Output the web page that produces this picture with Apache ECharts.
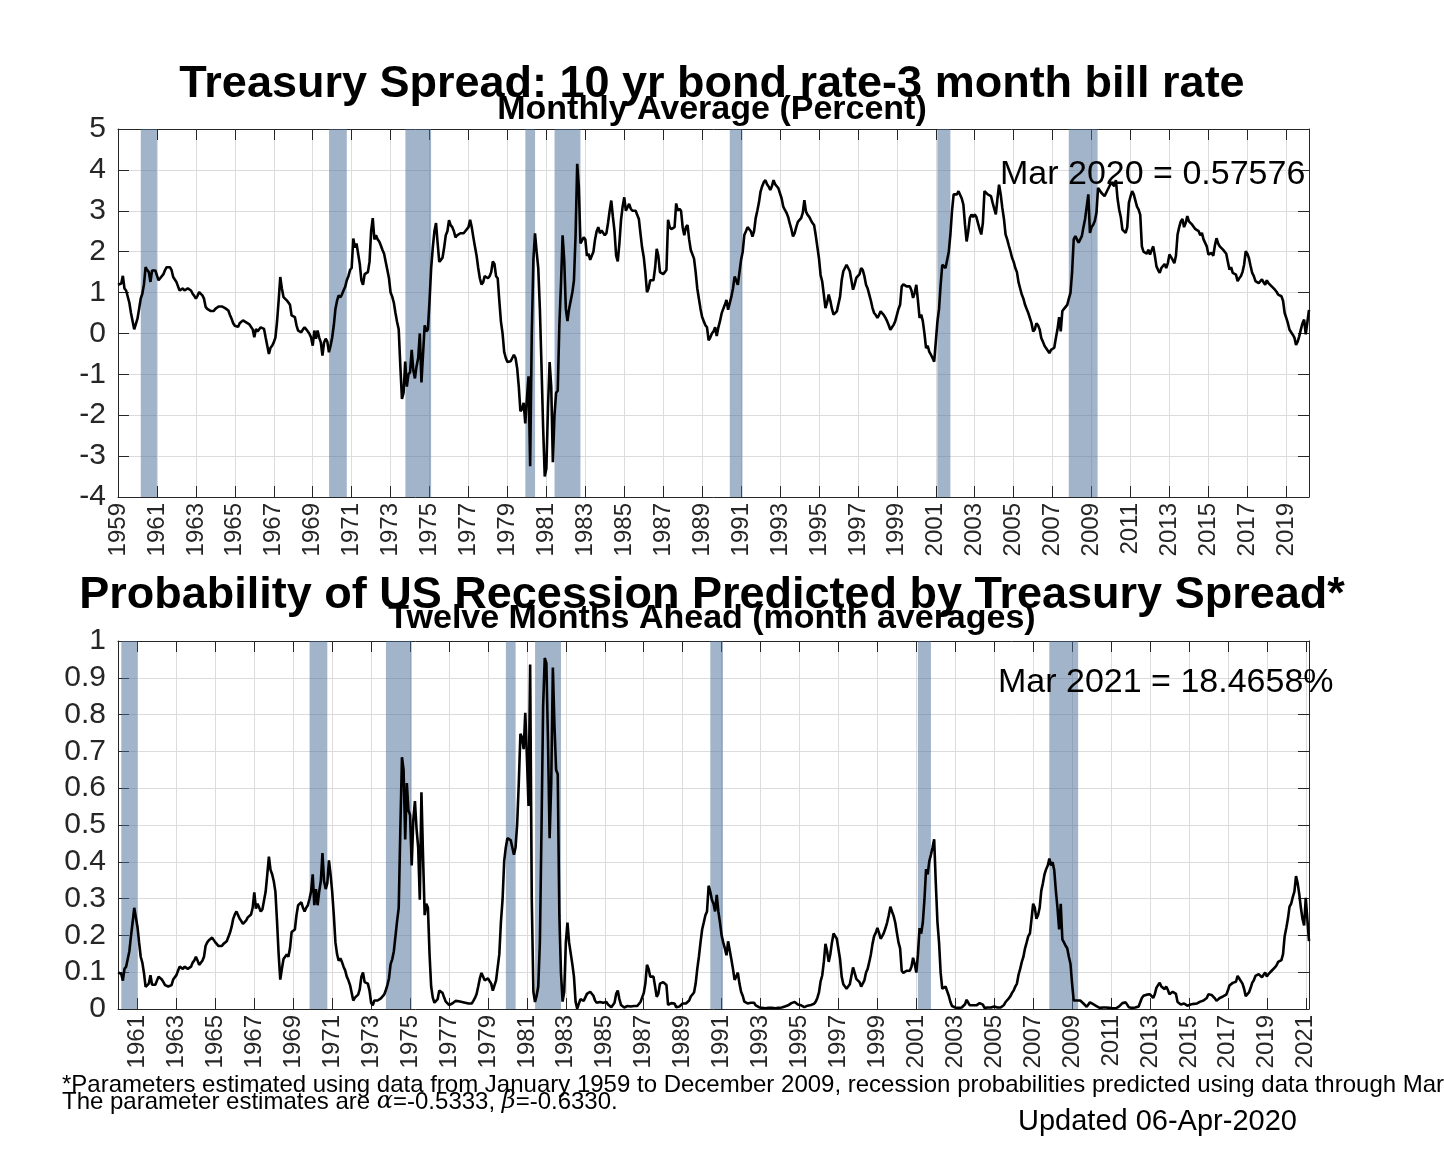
<!DOCTYPE html>
<html><head><meta charset="utf-8">
<script src="https://cdn.jsdelivr.net/npm/echarts@6/dist/echarts.min.js"></script>
<style>html,body{margin:0;padding:0;background:#fff}#c{width:1444px;height:1150px}</style>
</head><body><div id="c"></div>
<script>
// Monthly spread (10y - 3m, percent), Jan 1959 .. Mar 2020
const spreadStartYear = 1959;
const spread = [
1.19,1.15,1.22,1.41,1.10,1.05,1.01,0.75,0.50,0.30,0.10,0.10,
0.36,0.60,0.85,0.97,1.20,1.62,1.55,1.50,1.26,1.54,1.50,1.54,
1.54,1.30,1.35,1.38,1.45,1.55,1.62,1.60,1.62,1.55,1.38,1.35,
1.26,1.15,1.05,1.08,1.10,1.05,1.05,1.10,1.11,1.05,0.97,0.92,
0.85,0.92,1.01,0.98,0.93,0.85,0.65,0.60,0.56,0.55,0.52,0.55,
0.60,0.62,0.66,0.69,0.66,0.62,0.62,0.58,0.56,0.45,0.36,0.25,
0.19,0.15,0.16,0.25,0.28,0.32,0.30,0.27,0.23,0.22,0.19,0.10,
-0.09,0.11,0.05,0.03,0.15,0.12,0.11,-0.10,-0.30,-0.50,-0.35,-0.30,
-0.22,-0.10,0.28,0.80,1.38,1.10,0.89,0.85,0.81,0.85,0.70,0.44,
0.42,0.40,0.20,0.07,0.05,0.03,0.10,0.15,0.10,0.07,-0.01,-0.10,
-0.30,0.07,-0.13,0.07,-0.10,-0.22,-0.54,-0.22,-0.13,-0.20,-0.46,-0.30,
-0.10,0.20,0.60,0.80,0.93,0.88,0.95,1.05,1.14,1.30,1.40,1.55,
1.60,2.32,2.10,2.20,1.95,1.70,1.30,1.19,1.45,1.42,1.50,1.75,
2.50,2.82,2.30,2.40,2.30,2.25,2.15,2.04,1.95,1.75,1.55,1.35,
1.00,0.90,0.75,0.50,0.28,0.10,-0.80,-1.60,-1.45,-0.69,-1.30,-1.00,
-0.95,-0.40,-0.90,-1.10,-0.80,-0.60,0.00,-1.20,-0.50,0.20,0.05,0.10,
0.80,1.60,2.10,2.50,2.70,2.20,1.75,1.80,1.85,2.10,2.40,2.50,
2.77,2.65,2.60,2.50,2.35,2.40,2.38,2.45,2.42,2.45,2.50,2.50,
2.60,2.78,2.60,2.35,2.12,1.90,1.60,1.35,1.20,1.25,1.40,1.38,
1.35,1.40,1.50,1.76,1.70,1.40,1.35,0.80,0.29,0.00,-0.45,-0.60,
-0.70,-0.72,-0.68,-0.70,-0.52,-0.60,-0.85,-1.30,-1.90,-1.85,-1.70,-2.20,
-1.60,-1.05,-3.25,0.00,1.80,2.45,2.00,1.60,0.60,-0.80,-2.30,-3.50,
-3.30,-1.80,-0.70,-1.30,-3.15,-2.00,-1.45,-1.40,0.20,1.20,2.40,1.80,
0.60,0.30,0.60,0.60,1.00,1.30,2.40,4.15,3.60,2.20,2.20,2.35,
2.30,1.90,1.95,1.80,1.76,2.00,2.30,2.50,2.60,2.45,2.52,2.50,
2.40,2.45,2.70,3.00,3.25,2.85,2.50,1.90,1.76,2.20,2.77,3.10,
3.33,3.00,3.00,3.17,3.05,3.00,3.00,3.00,3.00,2.80,2.44,2.10,
1.87,1.50,1.01,1.10,1.30,1.34,1.30,1.60,2.07,1.90,1.50,1.46,
1.45,1.50,1.55,2.78,2.60,2.55,2.58,2.60,3.18,3.00,3.05,3.00,
2.60,2.40,2.60,2.65,2.30,2.04,2.00,1.83,1.50,1.10,0.85,0.60,
0.40,0.30,0.20,0.15,-0.17,-0.10,0.00,0.05,0.15,-0.06,0.15,0.30,
0.49,0.60,0.70,0.82,0.58,0.55,0.90,1.10,1.39,1.30,1.19,1.50,
1.80,2.00,2.41,2.50,2.60,2.64,2.50,2.37,2.50,2.82,3.00,3.20,
3.47,3.60,3.70,3.75,3.65,3.59,3.51,3.60,3.75,3.65,3.60,3.55,
3.51,3.30,3.10,3.02,2.95,2.85,2.69,2.55,2.37,2.45,2.60,2.73,
2.75,2.82,2.95,3.26,2.98,2.90,2.85,2.77,2.70,2.65,2.40,2.12,
1.84,1.43,1.27,0.95,0.62,0.75,0.95,0.80,0.60,0.46,0.50,0.54,
0.54,0.90,1.30,1.52,1.60,1.68,1.60,1.52,1.55,1.07,1.20,1.36,
1.40,1.45,1.60,1.55,1.40,1.19,1.10,0.95,0.80,0.62,0.50,0.45,
0.38,0.45,0.54,0.50,0.45,0.38,0.30,0.20,0.09,0.15,0.21,0.30,
0.45,0.60,0.70,1.15,1.20,1.19,1.15,1.11,1.15,1.05,0.87,1.00,
1.19,0.80,0.38,0.46,0.30,0.00,-0.36,-0.30,-0.45,-0.52,-0.60,-0.69,
-0.20,0.29,0.60,1.20,1.68,1.72,1.60,1.56,2.00,2.42,3.00,3.40,
3.36,3.40,3.48,3.45,3.30,3.15,2.66,2.25,2.50,2.83,2.91,2.85,
2.91,2.85,2.70,2.55,2.42,2.70,3.48,3.45,3.40,3.38,3.36,3.20,
3.05,2.91,3.30,3.64,3.40,3.07,2.80,2.42,2.30,2.15,2.01,1.85,
1.75,1.60,1.50,1.25,1.10,0.95,0.85,0.70,0.60,0.50,0.46,0.25,
0.05,0.10,0.25,0.20,0.10,-0.11,-0.20,-0.30,-0.36,-0.40,-0.48,-0.40,
-0.44,-0.35,-0.11,0.10,0.40,0.05,0.55,0.60,0.65,0.70,0.85,0.99,
1.50,2.30,2.38,2.30,2.22,2.30,2.38,2.60,2.80,3.10,3.40,2.46,
2.60,2.66,2.75,2.95,3.56,3.50,3.44,3.40,3.36,3.40,3.52,3.60,
3.69,3.65,3.60,3.75,3.30,3.03,2.85,2.54,2.50,2.46,2.60,3.20,
3.35,3.48,3.40,3.36,3.10,3.03,2.90,2.13,2.00,2.01,1.95,2.05,
1.93,1.95,2.13,1.90,1.64,1.55,1.48,1.60,1.64,1.70,1.60,1.72,
1.93,1.90,1.80,1.72,1.90,2.42,2.60,2.74,2.80,2.60,2.70,2.87,
2.74,2.70,2.66,2.64,2.55,2.58,2.50,2.40,2.46,2.30,2.30,2.13,
1.93,1.95,1.97,1.90,2.15,2.33,2.20,2.13,2.09,2.05,2.01,1.95,
1.75,1.56,1.62,1.48,1.50,1.44,1.28,1.35,1.40,1.50,1.68,2.01,
1.95,1.84,1.65,1.48,1.40,1.28,1.30,1.23,1.20,1.32,1.25,1.19,
1.30,1.23,1.20,1.15,1.12,1.07,1.02,0.95,0.93,0.91,0.80,0.50,
0.38,0.25,0.09,0.05,-0.03,-0.10,-0.28,-0.20,-0.07,0.10,0.25,0.34,
-0.02,0.00,0.57576
];

// Recession probability twelve months ahead, Jan 1960 .. Mar 2021
const probStartYear = 1960;
const prob = [
0.099,0.104,0.096,0.077,0.109,0.115,0.120,0.157,0.198,0.235,0.275,0.275,
0.223,0.181,0.142,0.126,0.098,0.060,0.065,0.069,0.092,0.066,0.069,0.066,
0.066,0.088,0.083,0.080,0.073,0.065,0.060,0.061,0.060,0.065,0.080,0.083,
0.092,0.104,0.115,0.112,0.109,0.115,0.115,0.109,0.108,0.115,0.126,0.132,
0.142,0.132,0.120,0.124,0.131,0.142,0.172,0.181,0.187,0.189,0.194,0.189,
0.181,0.177,0.171,0.166,0.171,0.177,0.177,0.184,0.187,0.207,0.223,0.245,
0.257,0.265,0.263,0.245,0.239,0.231,0.235,0.241,0.249,0.251,0.257,0.275,
0.317,0.273,0.286,0.290,0.265,0.271,0.273,0.319,0.366,0.414,0.378,0.366,
0.347,0.319,0.239,0.149,0.080,0.109,0.136,0.142,0.148,0.142,0.165,0.209,
0.212,0.216,0.255,0.282,0.286,0.290,0.275,0.265,0.275,0.282,0.299,0.319,
0.366,0.282,0.326,0.282,0.319,0.347,0.424,0.347,0.326,0.342,0.404,0.366,
0.319,0.255,0.181,0.149,0.131,0.138,0.128,0.115,0.105,0.088,0.078,0.065,
0.061,0.023,0.031,0.027,0.039,0.054,0.088,0.099,0.073,0.076,0.069,0.050,
0.017,0.010,0.023,0.020,0.023,0.025,0.029,0.034,0.039,0.050,0.065,0.083,
0.122,0.135,0.157,0.198,0.239,0.275,0.489,0.684,0.650,0.461,0.614,0.540,
0.527,0.390,0.514,0.565,0.489,0.439,0.297,0.589,0.414,0.255,0.286,0.275,
0.149,0.061,0.031,0.017,0.012,0.027,0.050,0.047,0.044,0.031,0.020,0.017,
0.011,0.014,0.015,0.017,0.022,0.020,0.021,0.019,0.019,0.019,0.017,0.017,
0.015,0.011,0.015,0.022,0.030,0.041,0.061,0.083,0.098,0.093,0.078,0.080,
0.083,0.078,0.069,0.050,0.054,0.078,0.083,0.149,0.237,0.297,0.402,0.439,
0.464,0.469,0.459,0.464,0.419,0.439,0.502,0.614,0.748,0.738,0.706,0.805,
0.684,0.552,0.936,0.297,0.047,0.019,0.036,0.061,0.181,0.489,0.822,0.954,
0.940,0.728,0.464,0.614,0.928,0.768,0.650,0.638,0.255,0.098,0.020,0.047,
0.181,0.235,0.181,0.181,0.122,0.088,0.020,0.001,0.003,0.027,0.027,0.022,
0.023,0.041,0.039,0.047,0.050,0.036,0.023,0.017,0.015,0.019,0.017,0.017,
0.020,0.019,0.012,0.008,0.005,0.010,0.017,0.041,0.050,0.027,0.011,0.006,
0.004,0.008,0.008,0.006,0.007,0.008,0.008,0.008,0.008,0.011,0.019,0.031,
0.043,0.069,0.120,0.109,0.088,0.084,0.088,0.061,0.033,0.041,0.069,0.073,
0.073,0.069,0.065,0.011,0.015,0.016,0.015,0.015,0.005,0.008,0.007,0.008,
0.015,0.020,0.015,0.014,0.023,0.034,0.036,0.045,0.069,0.109,0.142,0.181,
0.216,0.235,0.255,0.265,0.335,0.319,0.297,0.286,0.265,0.310,0.265,0.235,
0.200,0.181,0.165,0.146,0.184,0.189,0.135,0.109,0.079,0.088,0.099,0.069,
0.047,0.036,0.020,0.017,0.015,0.014,0.017,0.021,0.017,0.010,0.008,0.005,
0.003,0.003,0.002,0.002,0.002,0.003,0.003,0.003,0.002,0.002,0.003,0.003,
0.003,0.004,0.006,0.007,0.008,0.010,0.013,0.016,0.021,0.019,0.015,0.012,
0.011,0.010,0.008,0.005,0.008,0.009,0.010,0.011,0.012,0.014,0.020,0.030,
0.045,0.075,0.091,0.128,0.177,0.157,0.128,0.149,0.181,0.205,0.198,0.191,
0.191,0.135,0.088,0.067,0.061,0.055,0.061,0.067,0.065,0.113,0.098,0.082,
0.078,0.073,0.061,0.065,0.078,0.099,0.109,0.128,0.149,0.177,0.198,0.207,
0.220,0.207,0.191,0.198,0.207,0.220,0.235,0.255,0.278,0.265,0.253,0.235,
0.207,0.181,0.165,0.104,0.098,0.099,0.104,0.108,0.104,0.115,0.139,0.122,
0.099,0.149,0.220,0.205,0.235,0.297,0.380,0.366,0.402,0.419,0.439,0.461,
0.342,0.237,0.181,0.098,0.055,0.052,0.061,0.064,0.036,0.019,0.008,0.004,
0.004,0.004,0.003,0.003,0.004,0.006,0.013,0.025,0.017,0.010,0.009,0.010,
0.009,0.010,0.012,0.016,0.019,0.012,0.003,0.003,0.004,0.004,0.004,0.005,
0.007,0.009,0.004,0.002,0.004,0.007,0.011,0.019,0.023,0.029,0.035,0.044,
0.050,0.061,0.069,0.093,0.109,0.128,0.142,0.165,0.181,0.198,0.205,0.245,
0.286,0.275,0.245,0.255,0.275,0.321,0.342,0.366,0.380,0.390,0.409,0.390,
0.399,0.377,0.321,0.275,0.216,0.286,0.189,0.181,0.172,0.165,0.142,0.123,
0.069,0.023,0.021,0.023,0.026,0.023,0.021,0.015,0.011,0.006,0.004,0.018,
0.015,0.013,0.011,0.008,0.003,0.003,0.003,0.004,0.004,0.004,0.003,0.003,
0.002,0.002,0.003,0.002,0.004,0.007,0.010,0.016,0.017,0.018,0.015,0.005,
0.004,0.003,0.004,0.004,0.006,0.007,0.009,0.030,0.036,0.035,0.039,0.034,
0.040,0.039,0.030,0.041,0.058,0.065,0.071,0.061,0.058,0.054,0.061,0.052,
0.040,0.041,0.047,0.052,0.041,0.019,0.015,0.012,0.011,0.015,0.012,0.009,
0.012,0.012,0.013,0.014,0.016,0.015,0.017,0.020,0.018,0.023,0.023,0.030,
0.040,0.039,0.038,0.041,0.029,0.022,0.027,0.030,0.032,0.034,0.035,0.039,
0.050,0.064,0.060,0.071,0.069,0.074,0.090,0.083,0.078,0.069,0.055,0.035,
0.039,0.045,0.057,0.071,0.078,0.090,0.088,0.095,0.098,0.086,0.093,0.099,
0.088,0.095,0.098,0.104,0.107,0.113,0.119,0.128,0.131,0.133,0.149,0.198,
0.220,0.245,0.278,0.286,0.304,0.319,0.361,0.342,0.312,0.275,0.245,0.227,
0.302,0.297,0.184658
];

// Recession periods (fractional years)
const recessionStarts = [1960.17, 1969.84, 1973.76, 1979.92, 1981.42, 1990.42, 2001.08, 2007.83];
const recessionEnds   = [1961.00, 1970.75, 1975.08, 1980.42, 1982.75, 1991.07, 2001.75, 2009.31];

// Tick labels
const topXTicks = [];
for (let y = 1959; y <= 2019; y += 2) topXTicks.push(y);
const bottomXTicks = [];
for (let y = 1961; y <= 2021; y += 2) bottomXTicks.push(y);
const topYMin = -4, topYMax = 5, topYStep = 1;
const botYMin = 0, botYMax = 1, botYStep = 0.1;

const titleTop = 'Treasury Spread: 10 yr bond rate-3 month bill rate';
const subTop = 'Monthly Average (Percent)';
const noteTop = 'Mar 2020 = 0.57576';
const titleBot = 'Probability of US Recession Predicted by Treasury Spread*';
const subBot = 'Twelve Months Ahead (month averages)';
const noteBot = 'Mar 2021 = 18.4658%';
const foot1 = '*Parameters estimated using data from January 1959 to December 2009, recession probabilities predicted using data through Mar';
const updated = 'Updated 06-Apr-2020';

const FONT = '"Liberation Sans", Arial, Helvetica, sans-serif';
const AX = '#262626';
const GRIDC = '#dcdcdc';
const SHADE = 'rgba(70,105,150,0.5)';

const topData = spread.map((v, i) => [spreadStartYear + i / 12, v]);
const botData = prob.map((v, i) => [probStartYear + i / 12, v]);
const topXMax = spreadStartYear + (spread.length - 1) / 12;
const botXMax = probStartYear + (prob.length - 1) / 12;
const recArea = recessionStarts.map((s, i) => [{ xAxis: s }, { xAxis: recessionEnds[i] }]);

const tickCommon = { inside: true, length: 11, lineStyle: { color: AX, width: 1 } };
const lineCommon = { show: true, onZero: false, lineStyle: { color: AX, width: 1 } };

const chart = echarts.init(document.getElementById('c'), null, { renderer: 'canvas', width: 1444, height: 1150 });

const option = {
  animation: false,
  backgroundColor: '#fff',
  grid: [
    { left: 118, top: 129, width: 1191, height: 368, containLabel: false },
    { left: 118, top: 641, width: 1191, height: 368, containLabel: false }
  ],
  xAxis: [
    { gridIndex: 0, type: 'value', min: spreadStartYear, max: topXMax, interval: 2, position: 'bottom',
      axisLine: lineCommon, axisTick: tickCommon,
      axisLabel: { rotate: 90, fontSize: 24, fontFamily: FONT, color: AX, margin: 6, showMaxLabel: false,
        formatter: v => String(Math.round(v)) },
      splitLine: { show: true, lineStyle: { color: GRIDC, width: 1 } } },
    { gridIndex: 0, type: 'value', min: spreadStartYear, max: topXMax, interval: 2, position: 'top',
      axisLine: lineCommon, axisTick: tickCommon, axisLabel: { show: false }, splitLine: { show: false } },
    { gridIndex: 1, type: 'value', min: probStartYear, max: botXMax, position: 'bottom',
      axisLine: lineCommon, axisTick: Object.assign({ customValues: bottomXTicks }, tickCommon),
      axisLabel: { customValues: bottomXTicks, rotate: 90, fontSize: 24, fontFamily: FONT, color: AX, margin: 6,
        formatter: v => String(Math.round(v)) },
      splitLine: { show: true, lineStyle: { color: GRIDC, width: 1 } } },
    { gridIndex: 1, type: 'value', min: probStartYear, max: botXMax, position: 'top',
      axisLine: lineCommon, axisTick: Object.assign({ customValues: bottomXTicks }, tickCommon),
      axisLabel: { show: false }, splitLine: { show: false } }
  ],
  yAxis: [
    { gridIndex: 0, type: 'value', min: topYMin, max: topYMax, interval: topYStep, position: 'left',
      axisLine: lineCommon, axisTick: tickCommon,
      axisLabel: { fontSize: 30, fontFamily: FONT, color: AX, margin: 12 },
      splitLine: { show: true, lineStyle: { color: GRIDC, width: 1 } } },
    { gridIndex: 0, type: 'value', min: topYMin, max: topYMax, interval: topYStep, position: 'right',
      axisLine: lineCommon, axisTick: tickCommon, axisLabel: { show: false }, splitLine: { show: false } },
    { gridIndex: 1, type: 'value', min: botYMin, max: botYMax, interval: botYStep, position: 'left',
      axisLine: lineCommon, axisTick: tickCommon,
      axisLabel: { fontSize: 30, fontFamily: FONT, color: AX, margin: 12,
        formatter: v => String(Math.round(v * 10) / 10) },
      splitLine: { show: true, lineStyle: { color: GRIDC, width: 1 } } },
    { gridIndex: 1, type: 'value', min: botYMin, max: botYMax, interval: botYStep, position: 'right',
      axisLine: lineCommon, axisTick: tickCommon, axisLabel: { show: false }, splitLine: { show: false } }
  ],
  series: [
    { type: 'line', xAxisIndex: 0, yAxisIndex: 0, data: topData, showSymbol: false, symbol: 'none',
      lineStyle: { color: '#000', width: 2.6 }, z: 5, silent: true,
      markArea: { silent: true, itemStyle: { color: SHADE }, data: recArea } },
    { type: 'line', xAxisIndex: 2, yAxisIndex: 2, data: botData, showSymbol: false, symbol: 'none',
      lineStyle: { color: '#000', width: 2.6 }, z: 5, silent: true,
      markArea: { silent: true, itemStyle: { color: SHADE }, data: recArea } }
  ],
  graphic: [
    { type: 'text', x: 712, y: 85, z: 100, style: { text: titleTop, fontSize: 45, fontWeight: 'bold', fontFamily: FONT, fill: '#000', align: 'center', verticalAlign: 'middle' } },
    { type: 'text', x: 712, y: 110, z: 101, style: { text: subTop, fontSize: 34, fontWeight: 'bold', fontFamily: FONT, fill: '#000', align: 'center', verticalAlign: 'middle' } },
    { type: 'text', x: 1000, y: 175, z: 100, style: { text: noteTop, fontSize: 34, fontFamily: FONT, fill: '#000', align: 'left', verticalAlign: 'middle' } },
    { type: 'text', x: 712, y: 596, z: 100, style: { text: titleBot, fontSize: 45, fontWeight: 'bold', fontFamily: FONT, fill: '#000', align: 'center', verticalAlign: 'middle' } },
    { type: 'text', x: 712, y: 619, z: 101, style: { text: subBot, fontSize: 34, fontWeight: 'bold', fontFamily: FONT, fill: '#000', align: 'center', verticalAlign: 'middle' } },
    { type: 'text', x: 998, y: 683, z: 100, style: { text: noteBot, fontSize: 34, fontFamily: FONT, fill: '#000', align: 'left', verticalAlign: 'middle' } },
    { type: 'text', x: 62, y: 1085, z: 100, style: { text: foot1, fontSize: 24, fontFamily: FONT, fill: '#000', align: 'left', verticalAlign: 'middle' } },
    { type: 'text', x: 62, y: 1102, z: 100, style: {
        text: 'The parameter estimates are {g|α}=-0.5333, {g|β}=-0.6330.',
        fontSize: 24, fontFamily: FONT, fill: '#000', align: 'left', verticalAlign: 'middle',
        rich: { g: { fontSize: 24, fontFamily: '"DejaVu Serif", serif', fontStyle: 'italic', fill: '#000' } } } },
    { type: 'text', x: 1018, y: 1122, z: 100, style: { text: updated, fontSize: 29, fontFamily: FONT, fill: '#000', align: 'left', verticalAlign: 'middle' } }
  ]
};
chart.setOption(option);
</script>
</body></html>
